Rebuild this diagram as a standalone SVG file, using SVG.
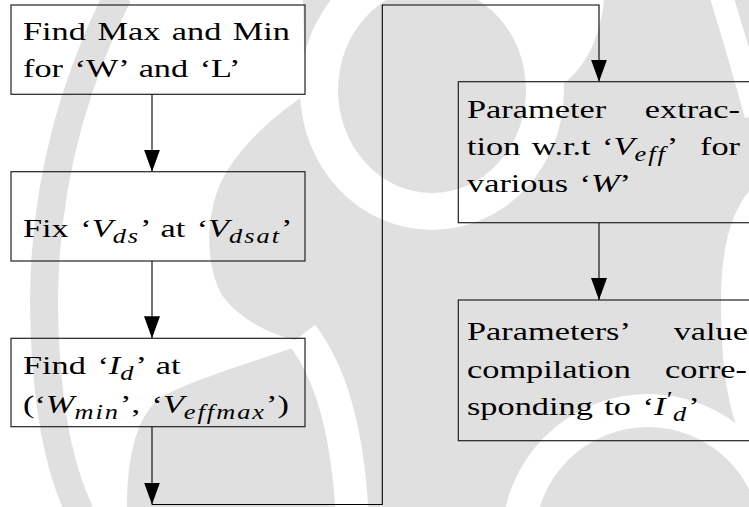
<svg xmlns="http://www.w3.org/2000/svg" width="749" height="507" viewBox="0 0 749 507">
<style>
.t{font-family:"Liberation Serif","Times New Roman",serif;font-size:26px;fill:#000;word-spacing:2.2px}
.e{text-anchor:end}
.i{font-style:italic}
.s{font-style:italic;font-size:20px;letter-spacing:1.5px}
.box{fill:none;stroke:#222;stroke-width:1.2}
.con{fill:none;stroke:#000;stroke-width:1.1}
.wm{fill:#e0e0e0}
.wh{fill:#fff}
.whs{fill:none;stroke:#fff}
</style>
<defs>
<marker id="ah" viewBox="0 0 22 16" refX="22" refY="8" markerWidth="22" markerHeight="16" markerUnits="userSpaceOnUse" orient="auto">
<path d="M0,0 L22,8 L0,16 Z" fill="#000"/>
</marker>
</defs>
<rect width="749" height="507" fill="#fff"/>
<g id="watermark">
<path class="wm" d="M303,0 L749,0 L749,507 L127,507 C127,470 132,420 160,398 C185,382 260,360 306,343 C270,335 240,320 222,295 C205,265 205,215 222,180 C240,145 275,115 305,95 Z"/>
<path d="M118,-5 Q45,140 44,300 Q45,440 80,512" fill="none" stroke="#e0e0e0" stroke-width="28"/>
<ellipse class="wh" cx="432" cy="90" rx="132" ry="140"/>
<path class="wh" d="M515,0 L604,0 C600,40 585,70 555,90 Z"/>
<path class="whs" d="M721,-5 Q738,50 756,115" stroke-width="23"/>
<path class="wh" d="M760,180 C735,200 721,240 721,300 C721,380 730,430 760,470 Z"/>
<circle class="whs" cx="648" cy="540" r="129.5" stroke-width="33"/>
<path class="whs" d="M302,335 Q345,390 352,512" stroke-width="33"/>
<ellipse class="wm" cx="432" cy="90" rx="94" ry="103"/>
</g>
<g id="connectors">
<path class="con" d="M152,94.3 V171.7" marker-end="url(#ah)"/>
<path class="con" d="M152,261 V338.3" marker-end="url(#ah)"/>
<path class="con" d="M152,426.7 V504.5" marker-end="url(#ah)"/>
<path class="con" d="M152,504.5 H382.3 V5 H599 V81.7" marker-end="url(#ah)"/>
<path class="con" d="M599,222.7 V300" marker-end="url(#ah)"/>
</g>
<g id="node1">
<rect class="box" x="11" y="5" width="294" height="89.3"/>
<g transform="scale(1.32,1)">
<text class="t" x="17.42" y="40">Find Max and Min</text>
<text class="t" x="17.42" y="77">for ‘W’ and ‘L’</text>
</g>
</g>
<g id="node2">
<rect class="box" x="11" y="171.7" width="294" height="89.3"/>
<g transform="scale(1.32,1)">
<text class="t" x="17.42" y="237">Fix ‘<tspan class="i">V</tspan><tspan class="s" dy="6">ds</tspan><tspan dy="-6">’ at ‘</tspan><tspan class="i">V</tspan><tspan class="s" dy="6">dsat</tspan><tspan dy="-6">’</tspan></text>
</g>
</g>
<g id="node3">
<rect class="box" x="11" y="338.3" width="294" height="88.4"/>
<g transform="scale(1.32,1)">
<text class="t" x="17.42" y="374">Find ‘<tspan class="i">I</tspan><tspan class="s" dy="6">d</tspan><tspan dy="-6">’ at</tspan></text>
<text class="t" x="17.42" y="413">(‘<tspan class="i">W</tspan><tspan class="s" dy="6">min</tspan><tspan dy="-6">’, ‘</tspan><tspan class="i">V</tspan><tspan class="s" dy="6">effmax</tspan><tspan dy="-6">’)</tspan></text>
</g>
</g>
<g id="node4">
<rect class="box" x="458.3" y="81.7" width="310" height="141"/>
<g transform="scale(1.32,1)">
<text class="t" x="353.79" y="118">Parameter</text>
<text class="t e" x="560.61" y="118">extrac-</text>
<text class="t" x="353.79" y="155" word-spacing="4">tion w.r.t ‘<tspan class="i">V</tspan><tspan class="s" dy="6">eff</tspan><tspan dy="-6">’</tspan></text>
<text class="t e" x="560.61" y="155">for</text>
<text class="t" x="353.79" y="192">various ‘<tspan class="i">W</tspan>’</text>
</g>
</g>
<g id="node5">
<rect class="box" x="458.3" y="300" width="310" height="140.7"/>
<g transform="scale(1.32,1)">
<text class="t" x="353.79" y="340">Parameters’</text>
<text class="t e" x="566.67" y="340">value</text>
<text class="t" x="353.79" y="378">compilation</text>
<text class="t e" x="565.91" y="378">corre-</text>
<text class="t" x="353.79" y="415">sponding to ‘<tspan class="i">I</tspan><tspan class="s" dy="-9">′</tspan><tspan class="s" dy="15">d</tspan><tspan dy="-6">’</tspan></text>
</g>
</g>
</svg>
